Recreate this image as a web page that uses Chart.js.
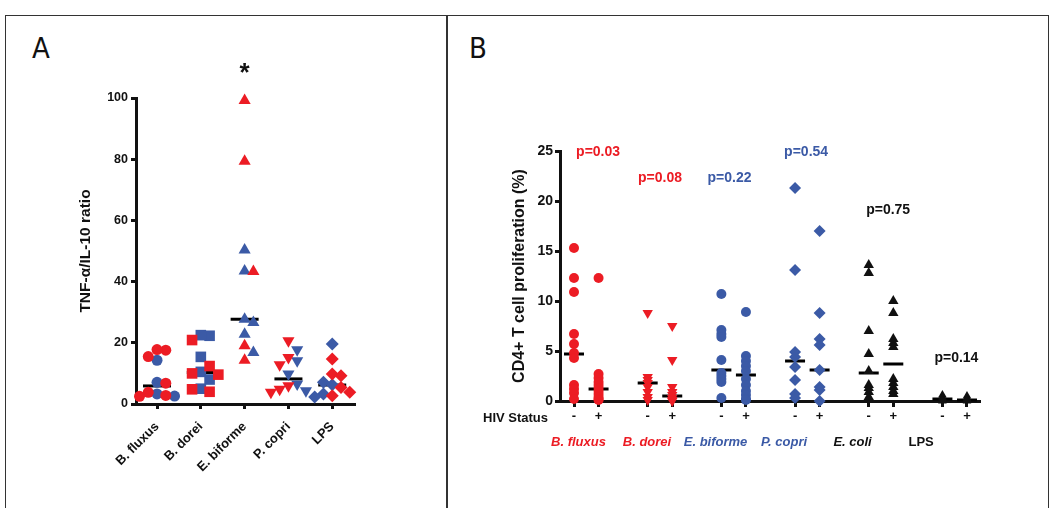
<!DOCTYPE html>
<html>
<head>
<meta charset="utf-8">
<script src="https://cdn.jsdelivr.net/npm/chart.js@4.4.0/dist/chart.umd.min.js"></script>
<style>
body { margin: 0; background: #fff; width: 1050px; height: 508px; overflow: hidden; position: relative; }
#frame { position: absolute; left: 5px; top: 15px; width: 1044px; height: 520px; border: 1.5px solid #333; box-sizing: border-box; }
#divider { position: absolute; left: 446px; top: 15px; width: 1.5px; height: 500px; background: #333; }
.letter { position: absolute; top: 31px; font-family: "Liberation Sans Narrow", "DejaVu Sans Condensed", sans-serif; font-size: 29px; color: #111; }
#wrapA { position: absolute; left: 10px; top: 20px; }
#wrapB { position: absolute; left: 450px; top: 20px; }
</style>
</head>
<body>
<div id="frame"></div>
<div id="divider"></div>
<div class="letter" style="left:32px">A</div>
<div class="letter" style="left:469px">B</div>
<div id="wrapA"><canvas id="chartA" width="435" height="488"></canvas></div>
<div id="wrapB"><canvas id="chartB" width="595" height="488"></canvas></div>
<script>
// ---- Panel A data: TNF-a / IL-10 ratio ----
var catsA = ['B. fluxus', 'B. dorei', 'E. biforme', 'P. copri', 'LPS'];
var redA = [
    [17.6, 17.8, 15.5, 6.8, 3.8, 2.8, 2.5],
    [20.9, 12.4, 10.0, 9.6, 4.8, 4.0],
    [99.2, 79.3, 43.3, 19.0, 14.3],
    [20.7, 15.2, 12.8, 6.0, 4.8, 3.8],
    [14.7, 9.8, 9.2, 5.4, 3.8, 2.7]
];
var blueA = [
    [14.3, 7.1, 3.3, 2.6],
    [22.3, 22.5, 15.4, 10.5, 8.0, 5.0],
    [50.3, 43.5, 27.7, 26.6, 22.8, 16.8],
    [17.7, 14.1, 9.8, 6.5, 4.3],
    [19.6, 7.1, 6.3, 3.3, 2.3]
];
var medianA = [5.9, 10.3, 27.7, 8.2, 6.2];
var signifA = ['', '', '*', '', ''];

// ---- Panel B data: CD4+ T cell proliferation ----
var groupsB = ['B. fluxus', 'B. dorei', 'E. biforme', 'P. copri', 'E. coli', 'LPS'];
var statusTicks = ['-', '+'];
var hivNeg = [
    [15.3, 12.3, 10.9, 6.7, 5.7, 4.8, 4.3, 1.6, 1.2, 0.8, 0.2],
    [8.8, 2.4, 2.1, 1.8, 1.4, 0.9, 0.4, 0.1],
    [10.7, 7.1, 6.7, 6.4, 4.1, 2.8, 2.5, 2.2, 1.9, 0.3],
    [21.3, 13.1, 4.9, 4.4, 3.4, 2.1, 0.7, 0.3],
    [13.6, 12.8, 7.0, 4.7, 3.0, 1.6, 1.3, 0.9, 0.4],
    [0.6, 0.4, 0.3, 0.2, 0.1, 0.0]
];
var hivPos = [
    [12.3, 2.7, 2.3, 1.9, 1.6, 1.3, 1.0, 0.7, 0.4, 0.2, 0.1],
    [7.5, 4.1, 1.4, 0.9, 0.6, 0.3, 0.1, 0.0],
    [8.9, 4.5, 4.0, 3.5, 3.0, 2.2, 1.6, 1.0, 0.6, 0.2, 0.1],
    [17.0, 8.8, 6.2, 5.6, 3.1, 1.4, 1.1, 0.0],
    [10.0, 8.8, 6.2, 5.8, 5.4, 2.2, 1.8, 1.4, 1.0, 0.7],
    [0.5, 0.3, 0.2, 0.1, 0.0]
];
var medianNeg = [4.7, 1.8, 3.1, 4.0, 2.8, 0.2];
var medianPos = [1.2, 0.5, 2.6, 3.1, 3.7, 0.1];
var pValues = ['p=0.03', 'p=0.08', 'p=0.22', 'p=0.54', 'p=0.75', 'p=0.14'];
// where each p value sits, in axis units (x) and % (y)
var pValueX = [0.98, 3.5, 6.33, 9.45, 12.79, 15.57];
var pValueAt = [24.9, 22.3, 22.3, 24.9, 19.1, 4.3];

var RED = '#ec1c24', BLUE = '#3b5aa6', BLACK = '#111';
var FONT = 'Arial, "Liberation Sans", sans-serif';
Chart.defaults.font.family = FONT;
Chart.defaults.font.weight = 'bold';
Chart.defaults.color = BLACK;

// simple column scatter spreading so points don't sit on top of each other
function swarm(items) {
    var placed = [];
    items.slice().sort(function (a, b) { return b.v - a.v; }).forEach(function (it) {
        for (var k = 0; k < 14; k++) {
            var dx = (k % 2 ? 1 : -1) * Math.ceil(k / 2) * 0.2;
            var hit = placed.some(function (p) {
                return Math.abs(p.dx - dx) < 0.19 && Math.abs(p.v - it.v) < 3.4;
            });
            if (!hit) { it.dx = dx; placed.push(it); break; }
        }
    });
    return items;
}

function axisGrid() {
    return { display: true, drawOnChartArea: false, drawTicks: true, tickLength: 5, tickWidth: 3, tickColor: BLACK, color: BLACK };
}

//-------------------------------------------------------------------------------------
// Panel A
var shapesA = ['circle', 'rect', 'triangle', 'triangle', 'rectRot'];
var radiusA = [5.5, 7.5, 7, 7, 6.5];
var dsA = [];
catsA.forEach(function (c, g) {
    var items = [];
    redA[g].forEach(function (v) { items.push({ v: v, col: RED }); });
    blueA[g].forEach(function (v) { items.push({ v: v, col: BLUE }); });
    swarm(items);
    [RED, BLUE].forEach(function (col) {
        dsA.push({
            data: items.filter(function (it) { return it.col === col; }).map(function (it) { return { x: g + it.dx, y: it.v }; }),
            pointStyle: shapesA[g],
            rotation: g === 3 ? 180 : 0,
            pointRadius: radiusA[g],
            backgroundColor: col,
            borderColor: col,
            borderWidth: 0,
            clip: false
        });
    });
});
dsA.push({
    data: medianA.map(function (m, g) { return { x: g, y: m }; }),
    pointStyle: 'line', pointRadius: 14, borderColor: '#000', borderWidth: 3, clip: false
});

new Chart(document.getElementById('chartA'), {
    type: 'scatter',
    data: { datasets: dsA },
    options: {
        responsive: false,
        animation: false,
        devicePixelRatio: 1,
        layout: { padding: { left: 64, right: 90, top: 78, bottom: 0 } },
        plugins: { legend: { display: false }, tooltip: { enabled: false } },
        scales: {
            x: {
                type: 'linear', min: -0.48, max: 4.52,
                afterBuildTicks: function (s) { s.ticks = catsA.map(function (c, i) { return { value: i }; }); },
                afterFit: function (s) { s.height = 104; },
                ticks: { minRotation: 45, maxRotation: 45, autoSkip: false, padding: 10, font: { size: 13, weight: 'bold' },
                    callback: function (v) { return catsA[Math.round(v)]; } },
                grid: axisGrid(),
                border: { display: true, width: 3, color: BLACK }
            },
            y: {
                min: 0, max: 100,
                afterFit: function (s) { s.width = 62; },
                ticks: { stepSize: 20, padding: 3, font: { size: 12.5, weight: 'bold' } },
                grid: axisGrid(),
                border: { display: true, width: 3, color: BLACK },
                title: { display: true, text: 'TNF-\u03B1/IL-10 ratio', padding: { top: 2, bottom: 2 }, font: { size: 15.5, weight: 'bold' } }
            }
        }
    },
    plugins: [{
        id: 'signif',
        afterDraw: function (chart) {
            var ctx = chart.ctx;
            ctx.save();
            ctx.fillStyle = BLACK;
            ctx.font = 'bold 26px ' + FONT;
            ctx.textAlign = 'center';
            ctx.textBaseline = 'middle';
            signifA.forEach(function (s, g) {
                if (s) ctx.fillText(s, chart.scales.x.getPixelForValue(g), chart.scales.y.getPixelForValue(108));
            });
            ctx.restore();
        }
    }]
});

//-------------------------------------------------------------------------------------
// Panel B
var colorsB = [RED, RED, BLUE, BLUE, BLACK, BLACK];
var shapesB = ['circle', 'triangle', 'circle', 'rectRot', 'triangle', 'triangle'];
var flipB = [0, 180, 0, 0, 0, 0];
var radiusB = [5, 6, 5, 6, 6, 5];
var dsB = [];
groupsB.forEach(function (name, g) {
    [hivNeg[g], hivPos[g]].forEach(function (vals, s) {
        dsB.push({
            data: vals.map(function (v) { return { x: 3 * g + s, y: v }; }),
            pointStyle: shapesB[g],
            rotation: flipB[g],
            pointRadius: radiusB[g],
            backgroundColor: colorsB[g],
            borderColor: colorsB[g],
            borderWidth: 0,
            clip: false
        });
    });
});
dsB.push({
    data: medianNeg.map(function (m, g) { return { x: 3 * g, y: m }; })
        .concat(medianPos.map(function (m, g) { return { x: 3 * g + 1, y: m }; })),
    pointStyle: 'line', pointRadius: 10, borderColor: '#000', borderWidth: 3, clip: false
});

new Chart(document.getElementById('chartB'), {
    type: 'scatter',
    data: { datasets: dsB },
    options: {
        responsive: false,
        animation: false,
        devicePixelRatio: 1,
        layout: { padding: { left: 58, right: 65, top: 131, bottom: 0 } },
        plugins: { legend: { display: false }, tooltip: { enabled: false } },
        scales: {
            x: {
                type: 'linear', min: -0.57, max: 16.53, weight: 0,
                afterBuildTicks: function (s) {
                    var t = [];
                    groupsB.forEach(function (n, g) { t.push({ value: 3 * g }, { value: 3 * g + 1 }); });
                    s.ticks = t;
                },
                afterFit: function (s) { s.height = 24; },
                ticks: { maxRotation: 0, autoSkip: false, padding: 2, font: { size: 13, weight: 'bold' },
                    callback: function (v) { return statusTicks[Math.round(v) % 3]; } },
                grid: { display: true, drawOnChartArea: false, drawTicks: true, tickLength: 6, tickWidth: 3, tickColor: BLACK, color: BLACK },
                border: { display: true, width: 3, color: BLACK }
            },
            xg: {
                type: 'linear', position: 'bottom', min: -0.27, max: 5.86, weight: 1,
                afterBuildTicks: function (s) { s.ticks = groupsB.map(function (n, i) { return { value: i }; }); },
                afterFit: function (s) { s.height = 83; },
                ticks: {
                    maxRotation: 0, autoSkip: false, padding: 2,
                    color: function (c) { return colorsB[c.index]; },
                    font: function (c) { return { size: 13, weight: 'bold', style: c.index === 5 ? 'normal' : 'italic' }; },
                    callback: function (v) { return groupsB[Math.round(v)]; }
                },
                grid: { display: false },
                border: { display: false }
            },
            y: {
                min: 0, max: 25,
                afterFit: function (s) { s.width = 52; },
                ticks: { stepSize: 5, padding: 2, font: { size: 14, weight: 'bold' } },
                grid: axisGrid(),
                border: { display: true, width: 3, color: BLACK },
                title: { display: true, text: 'CD4+ T cell proliferation (%)', padding: { top: 2, bottom: 2 }, font: { size: 16, weight: 'bold' } }
            }
        }
    },
    plugins: [{
        id: 'notes',
        afterDraw: function (chart) {
            var ctx = chart.ctx, area = chart.chartArea;
            ctx.save();
            ctx.font = 'bold 13px ' + FONT;
            ctx.textBaseline = 'middle';
            ctx.textAlign = 'right';
            ctx.fillStyle = BLACK;
            ctx.fillText('HIV Status', area.left - 12, area.bottom + 17);
            ctx.font = 'bold 14px ' + FONT;
            ctx.textAlign = 'center';
            pValues.forEach(function (p, g) {
                ctx.fillStyle = colorsB[g];
                ctx.fillText(p, chart.scales.x.getPixelForValue(pValueX[g]), chart.scales.y.getPixelForValue(pValueAt[g]));
            });
            ctx.restore();
        }
    }]
});
</script>
</body>
</html>
